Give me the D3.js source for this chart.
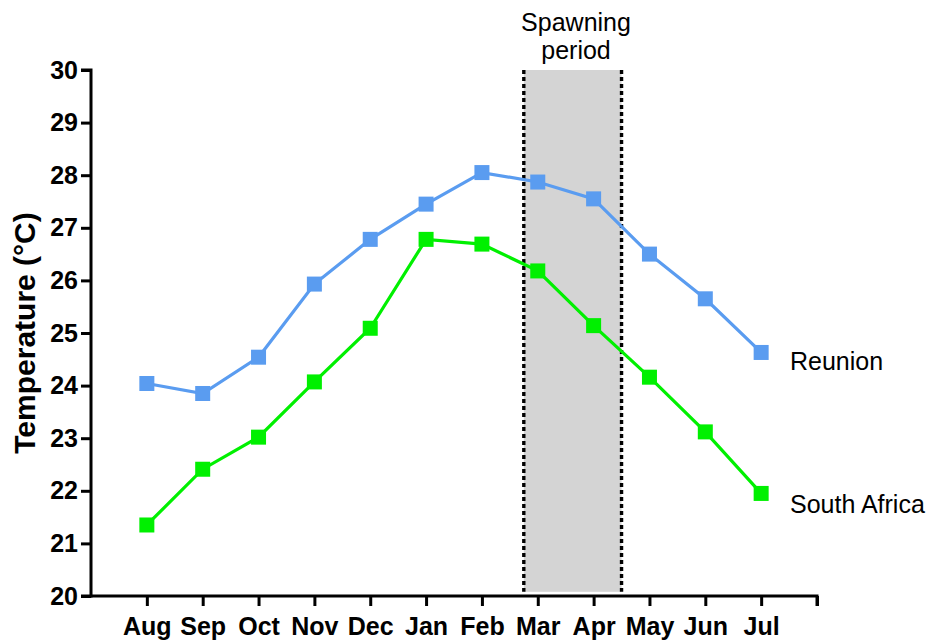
<!DOCTYPE html>
<html>
<head>
<meta charset="utf-8">
<script src="https://cdn.jsdelivr.net/npm/d3@7"></script>
<style>
  html, body { margin: 0; padding: 0; background: #fff; }
  svg { display: block; font-family: "Liberation Sans", Arial, sans-serif; }
</style>
</head>
<body>
<svg id="chart" width="931" height="644"></svg>
<script>
// Monthly sea temperatures, August to July
const months = ["Aug", "Sep", "Oct", "Nov", "Dec", "Jan", "Feb", "Mar", "Apr", "May", "Jun", "Jul"];
const reunion = [24.04, 23.85, 24.54, 25.93, 26.78, 27.45, 28.05, 27.87, 27.55, 26.50, 25.65, 24.63];
const southAfrica = [21.35, 22.41, 23.02, 24.07, 25.09, 26.78, 26.69, 26.18, 25.14, 24.16, 23.12, 21.95];
const yTicks = [20, 21, 22, 23, 24, 25, 26, 27, 28, 29, 30];
// Spawning window, in month-index units (mid-Feb to mid-Apr)
const spawning = [6.75, 8.5];

const svg = d3.select("#chart");

const x = d3.scaleLinear().domain([-1, 12]).range([91, 817]);
const y = d3.scaleLinear().domain([20, 30]).range([596, 70]);

// Shaded spawning period with dotted borders
svg.append("rect")
  .attr("x", x(spawning[0]))
  .attr("y", y(30))
  .attr("width", x(spawning[1]) - x(spawning[0]))
  .attr("height", y(20.08) - y(30))
  .attr("fill", "#d4d4d4");

spawning.forEach(v => {
  svg.append("line")
    .attr("x1", x(v)).attr("x2", x(v))
    .attr("y1", y(30)).attr("y2", y(20.08))
    .attr("stroke", "#000")
    .attr("stroke-width", 3.4)
    .attr("stroke-dasharray", "4,3");
});

svg.append("text")
  .attr("x", 576).attr("y", 31)
  .attr("text-anchor", "middle")
  .attr("font-size", 25)
  .text("Spawning");
svg.append("text")
  .attr("x", 576).attr("y", 59)
  .attr("text-anchor", "middle")
  .attr("font-size", 25)
  .text("period");

// Axes
const yAxis = d3.axisLeft(y).tickValues(yTicks).tickSize(10).tickPadding(3).tickFormat(d3.format("d"));
const gy = svg.append("g").attr("transform", `translate(${x(-1)},0)`).call(yAxis);
gy.select(".domain").attr("stroke-width", 3).attr("d", `M-10,${y(30)}H0V${y(20)}H-10`);
gy.selectAll(".tick line").attr("stroke-width", 3);
gy.selectAll(".tick text")
  .attr("font-size", 25).attr("font-weight", "bold")
  .attr("font-family", "'Liberation Sans', Arial, sans-serif")
  .attr("fill", "#000");

const xAxis = d3.axisBottom(x)
  .tickValues(d3.range(0, 13))
  .tickSize(10)
  .tickPadding(11)
  .tickFormat(i => months[i] || "");
const gx = svg.append("g").attr("transform", `translate(0,${y(20)})`).call(xAxis);
gx.select(".domain").attr("stroke-width", 3).attr("d", `M${x(-1)},0H${x(12)}V10`);
gx.selectAll(".tick line").attr("stroke-width", 3);
gx.selectAll(".tick text")
  .attr("font-size", 25).attr("font-weight", "bold")
  .attr("font-family", "'Liberation Sans', Arial, sans-serif")
  .attr("fill", "#000");

// Y-axis title
svg.append("text")
  .attr("transform", `translate(35,333) rotate(-90)`)
  .attr("text-anchor", "middle")
  .attr("font-size", 30)
  .attr("font-weight", "bold")
  .text("Temperature (°C)");

// Series
const series = [
  { name: "Reunion", values: reunion, color: "#5a9cf0", dy: 18 },
  { name: "South Africa", values: southAfrica, color: "#00f000", dy: 20 }
];

const line = d3.line().x((d, i) => x(i)).y(d => y(d));
const sq = 15;

series.forEach(s => {
  svg.append("path")
    .datum(s.values)
    .attr("fill", "none")
    .attr("stroke", s.color)
    .attr("stroke-width", 3.2)
    .attr("d", line);

  svg.append("g").selectAll("rect")
    .data(s.values)
    .join("rect")
    .attr("x", (d, i) => x(i) - sq / 2)
    .attr("y", d => y(d) - sq / 2)
    .attr("width", sq)
    .attr("height", sq)
    .attr("fill", s.color);

  svg.append("text")
    .attr("x", 790)
    .attr("y", y(s.values[s.values.length - 1]) + s.dy)
    .attr("font-size", 25)
    .text(s.name);
});
</script>
</body>
</html>
